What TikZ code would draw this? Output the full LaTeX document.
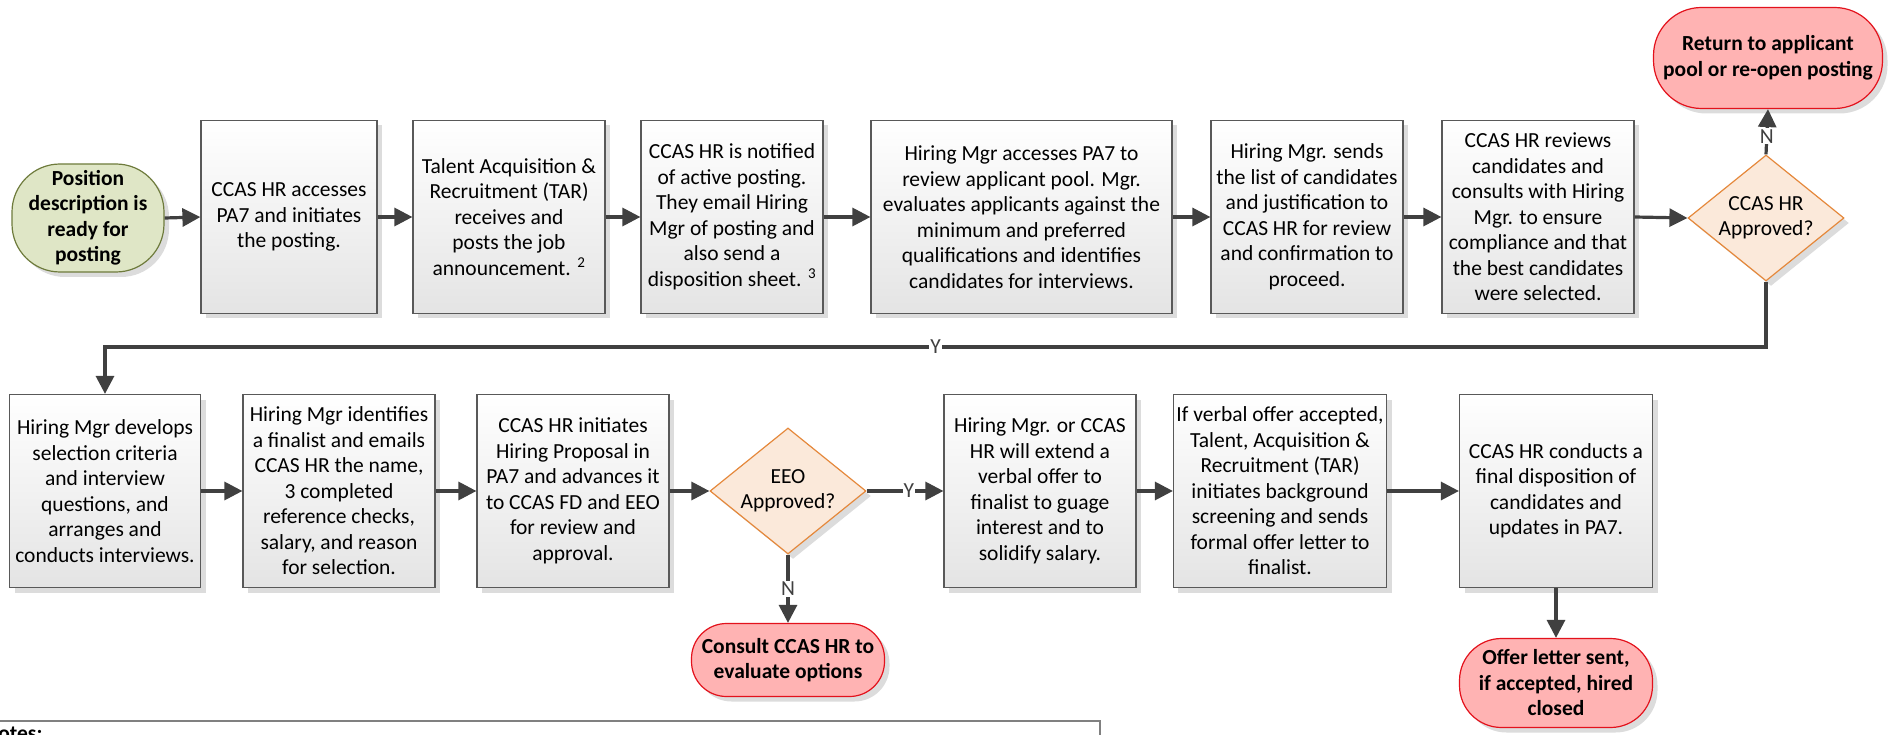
\documentclass[tikz,border=0pt]{standalone}
\usepackage{fontspec}
\setmainfont{Carlito}
\usetikzlibrary{shapes.geometric, shadows, arrows.meta}
\definecolor{BoxEdge}{HTML}{595959}
\definecolor{BoxLow}{HTML}{E4E4E4}
\definecolor{FlowGray}{HTML}{404040}
\definecolor{StartFill}{HTML}{DFE6C6}
\definecolor{StartEdge}{HTML}{6E7B3C}
\definecolor{EndFill}{HTML}{FFB3B3}
\definecolor{EndEdge}{HTML}{E3121C}
\definecolor{AskFill}{HTML}{FBE9DA}
\definecolor{AskEdge}{HTML}{E5883B}
\definecolor{ShadowGray}{HTML}{DCDCDC}
\newcommand{\flowfont}{\fontsize{21.5pt}{25.5pt}\selectfont}
\tikzset{
  flowshadow/.style={drop shadow={shadow xshift=5pt, shadow yshift=-5pt,
                fill=ShadowGray, opacity=1}},
  taskbox/.style={rectangle, draw=BoxEdge, line width=1.2pt,
                top color=white, bottom color=BoxLow, flowshadow,
                minimum width=#1, minimum height=193pt,
                align=center, font=\flowfont, inner sep=3pt},
  taskbox/.default=192pt,
  startcap/.style={rectangle, rounded corners=48pt, draw=StartEdge, line width=1.2pt,
                fill=StartFill, flowshadow, minimum width=152pt, minimum height=108pt,
                align=center, font=\flowfont\bfseries, inner sep=2pt},
  endcap/.style={rectangle, rounded corners=#1, draw=EndEdge, line width=1.2pt,
                fill=EndFill, flowshadow, align=center,
                font=\flowfont\bfseries, inner sep=2pt},
  decision/.style={diamond, draw=AskEdge, line width=1.2pt, fill=AskFill, flowshadow,
                minimum width=156pt, minimum height=126pt, inner sep=0pt},
  asktext/.style={align=center, font=\flowfont, inner sep=0pt},
  yesno/.style={fill=white, inner sep=1pt, font=\flowfont},
  flowarrow/.style={-{Triangle[length=18pt, width=18pt]}, line width=3.2pt, FlowGray, #1},
}
\begin{document}
\begin{tikzpicture}[x=1pt, y=-1pt]
    % Coordinate map (pixels of the 1890 x 735 sheet, y grows downward):
    % row 1 centred on y = 217, boxes 193 high
    % row 2 centred on y = 491, boxes 193 high
    % Y loop runs along y = 347
    \useasboundingbox (0,0) rectangle (1890,735);

    % row 1
    \node[startcap] (start) at (88,218) {Position\\description is\\ready for\\posting};
    \node[taskbox=176pt] (pa7) at (289,217) {CCAS HR accesses\\PA7 and initiates\\the posting.};
    \node[taskbox] (tar) at (509,217) {Talent Acquisition \&\\Recruitment (TAR)\\receives and\\posts the job\\announcement. \textsuperscript{2}};
    \node[taskbox=182pt] (notified) at (732,217) {CCAS HR is notified\\of active posting.\\They email Hiring\\Mgr of posting and\\also send a\\disposition sheet. \textsuperscript{3}};
    \node[taskbox=301pt] (review) at (1021.5,217) {Hiring Mgr accesses PA7 to\\review applicant pool. Mgr.\\evaluates applicants against the\\minimum and preferred\\qualifications and identifies\\candidates for interviews.};
    \node[taskbox] (sendlist) at (1307,217) {Hiring Mgr. sends\\the list of candidates\\and justification to\\CCAS HR for review\\and confirmation to\\proceed.};
    \node[taskbox] (hrreview) at (1538,217) {CCAS HR reviews\\candidates and\\consults with Hiring\\Mgr. to ensure\\compliance and that\\the best candidates\\were selected.};
    \node[decision] (hrok) at (1766,218) {};
    \node[asktext] (hroktext) at (hrok) {CCAS HR\\Approved?};
    \node[endcap=48pt, minimum width=229pt, minimum height=101pt] (reopen) at (1768,58) {Return to applicant\\pool or re-open posting};

    % row 2
    \node[taskbox=191pt] (devcrit) at (105,491) {Hiring Mgr develops\\selection criteria\\and interview\\questions, and\\arranges and\\conducts interviews.};
    \node[taskbox] (finalist) at (339,491) {Hiring Mgr identifies\\a finalist and emails\\CCAS HR the name,\\3 completed\\reference checks,\\salary, and reason\\for selection.};
    \node[taskbox] (proposal) at (573,491) {CCAS HR initiates\\Hiring Proposal in\\PA7 and advances it\\to CCAS FD and EEO\\for review and\\approval.};
    \node[decision] (eeo) at (788,491) {};
    \node[asktext] (eeotext) at (eeo) {EEO\\Approved?};
    \node[taskbox] (verbal) at (1040,491) {Hiring Mgr. or CCAS\\HR will extend a\\verbal offer to\\finalist to guage\\interest and to\\solidify salary.};
    \node[taskbox=193pt] (background) at (1280,491) {If verbal offer accepted,\\Talent, Acquisition \&\\Recruitment (TAR)\\initiates background\\screening and sends\\formal offer letter to\\finalist.};
    \node[taskbox=193pt] (dispo) at (1556,491) {CCAS HR conducts a\\final disposition of\\candidates and\\updates in PA7.};
    \node[endcap=35pt, minimum width=193pt, minimum height=73pt] (consult) at (788,660) {Consult CCAS HR to\\evaluate options};
    \node[endcap=42pt, minimum width=193pt, minimum height=89pt] (offer) at (1556,683) {Offer letter sent,\\if accepted, hired\\closed};

    % notes strip, cut by the sheet edge
    \node[draw=black!50, line width=1.4pt, minimum width=1120pt, minimum height=60pt] (notes) at (540,751) {};
    \node[anchor=base west, font=\flowfont\bfseries, inner sep=0pt] (notestitle) at (-16,740) {Notes:};

    \draw[flowarrow={}] (start.east) -- (pa7.west);
    \draw[flowarrow={}] (pa7.east) -- (tar.west);
    \draw[flowarrow={}] (tar.east) -- (notified.west);
    \draw[flowarrow={}] (notified.east) -- (review.west);
    \draw[flowarrow={}] (review.east) -- (sendlist.west);
    \draw[flowarrow={}] (sendlist.east) -- (hrreview.west);
    \draw[flowarrow={}] (hrreview.east) -- (hrok.west);
    \draw[flowarrow={}] (hrok.north) -- node[pos=0.4, yesno] {N} (reopen.south);

    \coordinate (ybend) at (1766,347);
    \draw[flowarrow={}] (hrok.south) -- (ybend) -- node[yesno] {Y} (ybend -| devcrit) -- (devcrit.north);

    \draw[flowarrow={}] (devcrit.east) -- (finalist.west);
    \draw[flowarrow={}] (finalist.east) -- (proposal.west);
    \draw[flowarrow={}] (proposal.east) -- (eeo.west);
    \draw[flowarrow={}] (eeo.east) -- node[pos=0.55, yesno] {Y} (verbal.west);
    \draw[flowarrow={}] (eeo.south) -- node[yesno] {N} (consult.north);
    \draw[flowarrow={}] (verbal.east) -- (background.west);
    \draw[flowarrow={}] (background.east) -- (dispo.west);
    \draw[flowarrow={}] (dispo.south) -- (offer.north);
\end{tikzpicture}
\end{document}
